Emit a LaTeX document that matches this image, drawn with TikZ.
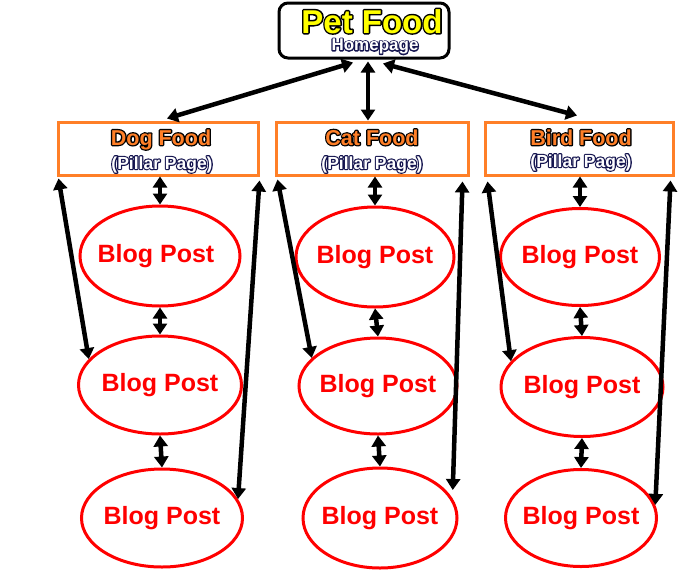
\documentclass[tikz,border=0pt]{standalone}
\usepackage{fontspec}
\setmainfont{Liberation Sans}
\usetikzlibrary{arrows.meta,shapes.geometric}
\definecolor{pfyellow}{RGB}{255,255,0}
\definecolor{pforange}{RGB}{255,127,39}
\definecolor{pfnavy}{RGB}{20,20,80}
\definecolor{pfred}{RGB}{255,0,0}
% #1 fill colour, #2 outline colour as raw rgb numbers, #3 text, #4 stroke width
\newcommand\olt[4]{\rlap{\special{pdf:literal direct #2 RG #2 rg #4 w 1 j 2 Tr}#3\special{pdf:literal direct 0 Tr}}\textcolor{#1}{#3}}
\tikzset{
  homebox/.style={draw=black, line width=3pt, rounded corners=9pt, fill=white, minimum width=170, minimum height=55, inner sep=0pt},
  pillarbox/.style={draw=pforange, line width=3pt, fill=white, minimum height=53, inner sep=0pt},
  blogell/.style={draw=pfred, line width=3pt, ellipse, inner sep=0pt},
  blogtxt/.style={text=pfred, inner sep=0pt, font=\fontsize{25}{25}\selectfont\bfseries},
  titletxt/.style={anchor=base, inner sep=0pt, font=\fontsize{21.5}{22}\selectfont\bfseries},
  subtxt/.style={anchor=base, inner sep=0pt, font=\fontsize{17.5}{18}\selectfont\bfseries},
  dbl/.style={line width=4.5pt, {Triangle[length=11pt,width=14pt]}-{Triangle[length=11pt,width=14pt]}},
}
\begin{document}
\begin{tikzpicture}[x=1pt,y=-1pt]
\useasboundingbox (0,0) rectangle (688,582);
% homepage
\node[homebox] (home) at (364,30.5) {};
% pillars
\node[pillarbox, minimum width=200] (dog) at (158,148.5) {};
\node[pillarbox, minimum width=192] (cat) at (372,148.5) {};
\node[pillarbox, minimum width=188] (bird) at (579,148.5) {};
% blog posts
\node[blogell, minimum width=160, minimum height=100] (b11) at (160,256) {};
\node[blogell, minimum width=163, minimum height=98] (b12) at (160,385) {};
\node[blogell, minimum width=161, minimum height=98] (b13) at (162,518) {};
\node[blogell, minimum width=158, minimum height=100] (b21) at (375,257) {};
\node[blogell, minimum width=158, minimum height=96] (b22) at (378,386) {};
\node[blogell, minimum width=154, minimum height=100] (b23) at (380,518) {};
\node[blogell, minimum width=159, minimum height=97] (b31) at (580,257) {};
\node[blogell, minimum width=162, minimum height=99] (b32) at (582,387) {};
\node[blogell, minimum width=151, minimum height=97] (b33) at (581,518) {};
% homepage to pillars
\draw[dbl] ([shift={(-11,3)}]home.south) -- ([shift={(9,-2)}]dog.north);
\draw[dbl] ([shift={(4,2)}]home.south) -- ([shift={(-4,0)}]cat.north);
\draw[dbl] ([shift={(19,4)}]home.south) -- ([shift={(-2,-5)}]bird.north);
% verticals
\foreach \c/\p in {1/dog,2/cat,3/bird}{
  \draw[dbl] (b\c1.north |- \p.south) -- (b\c1.north);
  \draw[dbl] (b\c1.south) -- (b\c2.north);
  \draw[dbl] (b\c2.south) -- (b\c3.north);
}
% long connectors
\draw[dbl] ([shift={(2,2)}]dog.south west) -- (b12.160);
\draw[dbl] ([shift={(0,4)}]dog.south east) -- (b13.14);
\draw[dbl] ([shift={(3,3)}]cat.south west) -- (b22.157);
\draw[dbl] ([shift={(-7,5)}]cat.south east) -- ([shift={(5,-2)}]b23.21);
\draw[dbl] ([shift={(4,5)}]bird.south west) -- (b32.160);
\draw[dbl] ([shift={(-4,4)}]bird.south east) -- (b33.10);
% texts
\node[anchor=base, inner sep=0pt, font=\fontsize{33}{33}\selectfont\bfseries] (homet) at (372,33) {\olt{pfyellow}{0 0 0}{Pet Food}{3}};
\node[anchor=base, inner sep=0pt, font=\fontsize{17}{17}\selectfont\bfseries] (homes) at (375,50.5) {\olt{white}{0.08 0.08 0.31}{Homepage}{2.4}};
\node[titletxt] (dogt) at (161,145) {\olt{pforange}{0 0 0}{Dog Food}{2.6}};
\node[subtxt] (dogs) at (162,169) {\olt{white}{0.08 0.08 0.31}{(Pillar Page)}{2.4}};
\node[titletxt] (catt) at (372,145) {\olt{pforange}{0 0 0}{Cat Food}{2.6}};
\node[subtxt] (cats) at (372,169) {\olt{white}{0.08 0.08 0.31}{(Pillar Page)}{2.4}};
\node[titletxt] (birdt) at (581,145) {\olt{pforange}{0 0 0}{Bird Food}{2.6}};
\node[subtxt] (birds) at (581,167) {\olt{white}{0.08 0.08 0.31}{(Pillar Page)}{2.4}};
\node[blogtxt] (b11t) at ([shift={(-4,0)}]b11) {Blog Post};
\foreach \n in {b12,b13,b21,b22,b23,b31,b32,b33}{
  \node[blogtxt] (\n t) at (\n) {Blog Post};
}
\end{tikzpicture}
\end{document}
